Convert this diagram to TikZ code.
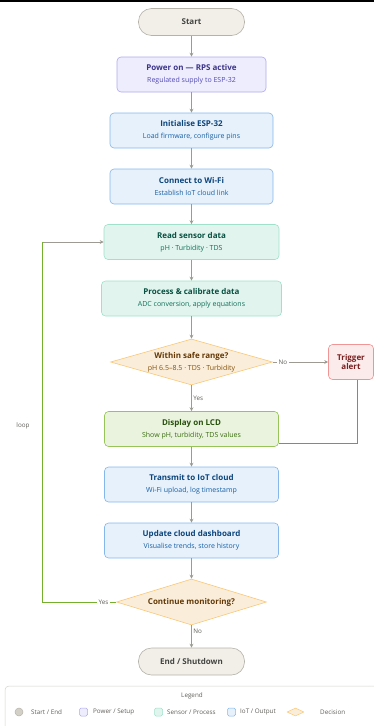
\documentclass[tikz,border=0pt]{standalone}
\usepackage{fontspec}
\setmainfont{Open Sans}
\usetikzlibrary{shapes.geometric,arrows.meta}

\definecolor{termfill}{HTML}{F1EFE8}
\definecolor{termdot}{HTML}{D3D1C7}
\definecolor{termline}{HTML}{B4B2A9}
\definecolor{termtext}{HTML}{444441}
\definecolor{powfill}{HTML}{EEEDFE}
\definecolor{powline}{HTML}{AFA9EC}
\definecolor{powtext}{HTML}{3C3489}
\definecolor{powsub}{HTML}{534AB7}
\definecolor{iotfill}{HTML}{E6F1FB}
\definecolor{iotline}{HTML}{85B7EB}
\definecolor{iottext}{HTML}{0C447C}
\definecolor{iotsub}{HTML}{185FA5}
\definecolor{senfill}{HTML}{E1F5EE}
\definecolor{senline}{HTML}{9FE1CB}
\definecolor{sentext}{HTML}{085041}
\definecolor{sensub}{HTML}{0F6E56}
\definecolor{decfill}{HTML}{FAEEDA}
\definecolor{decline}{HTML}{FAC775}
\definecolor{dectext}{HTML}{633806}
\definecolor{decsub}{HTML}{854F0B}
\definecolor{lcdfill}{HTML}{EAF3DE}
\definecolor{lcdline}{HTML}{97C459}
\definecolor{lcdtext}{HTML}{27500A}
\definecolor{lcdsub}{HTML}{3B6D11}
\definecolor{alfill}{HTML}{FCEBEB}
\definecolor{alline}{HTML}{F09595}
\definecolor{altext}{HTML}{791F1F}
\definecolor{flowgray}{HTML}{9C9A92}
\definecolor{loopgreen}{HTML}{74B02E}
\definecolor{alred}{HTML}{EE5A58}
\definecolor{lblgray}{HTML}{5F5E5A}

\newcommand\subfont{\fontsize{7}{8}\selectfont\mdseries}

\tikzset{
  box/.style={draw, rounded corners=4pt, line width=0.6pt, minimum height=35pt,
    inner sep=0pt, align=center, font=\fontsize{8}{9}\selectfont\bfseries},
  term/.style={box, rounded corners=13pt, minimum height=27pt, minimum width=106pt,
    fill=termfill, draw=termline, text=termtext},
  power/.style={box, fill=powfill, draw=powline, text=powtext},
  iot/.style={box, fill=iotfill, draw=iotline, text=iottext},
  sensor/.style={box, fill=senfill, draw=senline, text=sentext},
  lcdbox/.style={box, fill=lcdfill, draw=lcdline, text=lcdtext},
  alertbox/.style={box, minimum width=45pt, fill=alfill, draw=alline, text=altext},
  decide/.style={diamond, draw=decline, fill=decfill, line width=0.6pt, aspect=3.5,
    inner sep=0pt, minimum height=46pt, align=center, text=dectext,
    font=\fontsize{8}{9}\selectfont\bfseries},
  flow/.style={draw=flowgray, line width=0.8pt, -{Stealth[length=4pt,width=4pt]}},
  loopline/.style={draw=loopgreen, line width=1pt},
  alarm/.style={draw=alred, line width=1pt},
  lbl/.style={font=\fontsize{6.3}{7}\selectfont, text=lblgray, inner sep=1.5pt},
  legtext/.style={font=\fontsize{6.3}{7}\selectfont, text=lblgray, anchor=west, inner sep=0pt},
  legkey/.style={draw, line width=0.5pt, rounded corners=1.5pt, minimum size=8pt, inner sep=0pt}
}

\begin{document}
\begin{tikzpicture}[x=1pt,y=-1pt]
  \useasboundingbox (0,0) rectangle (374,726);
  \fill[black] (0,0) rectangle (374,1.5);
  \draw
    (191.5,22) node[term] (start) {Start}
    (191.5,74.5) node[power, minimum width=149pt] (power) {Power on — RPS active\\[3pt]{\subfont\color{powsub}Regulated supply to ESP-32}}
    (191.5,130.5) node[iot, minimum width=163pt] (init) {Initialise ESP-32\\[3pt]{\subfont\color{iotsub}Load firmware, configure pins}}
    (191.5,186.5) node[iot, minimum width=163pt] (wifi) {Connect to Wi-Fi\\[3pt]{\subfont\color{iotsub}Establish IoT cloud link}}
    (191.5,242) node[sensor, minimum width=175pt] (read) {Read sensor data\\[3pt]{\subfont\color{sensub}pH · Turbidity · TDS}}
    (191.5,298.5) node[sensor, minimum width=180pt] (proc) {Process \& calibrate data\\[3pt]{\subfont\color{sensub}ADC conversion, apply equations}}
    (191.5,362) node[decide, minimum width=162pt] (safe) {Within safe range?\\[3pt]{\subfont\color{decsub}pH 6.5–8.5 · TDS · Turbidity}}
    (351,362) node[alertbox] (alert) {Trigger\\alert}
    (191.5,429) node[lcdbox, minimum width=174pt] (lcd) {Display on LCD\\[3pt]{\subfont\color{lcdsub}Show pH, turbidity, TDS values}}
    (191.5,484.5) node[iot, minimum width=174pt] (send) {Transmit to IoT cloud\\[3pt]{\subfont\color{iotsub}Wi-Fi upload, log timestamp}}
    (191.5,540.5) node[iot, minimum width=174pt] (dash) {Update cloud dashboard\\[3pt]{\subfont\color{iotsub}Visualise trends, store history}}
    (191.5,602) node[decide, minimum width=150pt] (cont) {Continue monitoring?}
    (191.5,661.5) node[term] (stop) {End / Shutdown};
  \coordinate (lb) at (42,602);
  \coordinate (lt) at (42,242);
  \node[lbl] (looplbl) at (23,426) {loop};
  \begin{scope}[flow]
    \draw (start) to (power);
    \draw (power) to (init);
    \draw (init) to (wifi);
    \draw (wifi) to (read);
    \draw (read) to (proc);
    \draw (proc) to (safe);
    \draw (safe) to node[lbl, right] {Yes} (lcd);
    \draw (safe) to node[lbl, pos=0.18, fill=white] {No} (alert);
    \draw (lcd) to (send);
    \draw (send) to (dash);
    \draw (dash) to (cont);
    \draw (cont) to node[lbl, right, pos=0.25] {No} (stop);
    \draw (lt) to (read);
  \end{scope}
  \draw[loopline] (cont) to node[lbl, pos=0.17, fill=white] {Yes} (lb) to (lt);
  \draw[alarm] ([xshift=6pt]alert.south) |- ([yshift=3pt]lcd.south east);
  \draw[draw=termline!60, line width=0.5pt, rounded corners=4pt] (374,686) -- (5,686) -- (5,726);
  \node[lbl] (legtitle) at (192,696) {Legend};
  \node[legkey, circle, fill=termdot, draw=termline] (k1) at (19,712) {};
  \node[legtext] (t1) at (31,712) {Start / End};
  \node[legkey, fill=powfill, draw=powline] (k2) at (83.5,712) {};
  \node[legtext] (t2) at (93,712) {Power / Setup};
  \node[legkey, fill=senfill, draw=senline] (k3) at (158.5,712) {};
  \node[legtext] (t3) at (167,712) {Sensor / Process};
  \node[legkey, fill=iotfill, draw=iotline] (k4) at (231.5,712) {};
  \node[legtext] (t4) at (240,712) {IoT / Output};
  \node[diamond, draw=decline, fill=decfill, line width=0.5pt, inner sep=0pt, minimum width=17pt, minimum height=8pt] (k5) at (295.5,712) {};
  \node[legtext] (t5) at (320,712) {Decision};
\end{tikzpicture}
\end{document}
